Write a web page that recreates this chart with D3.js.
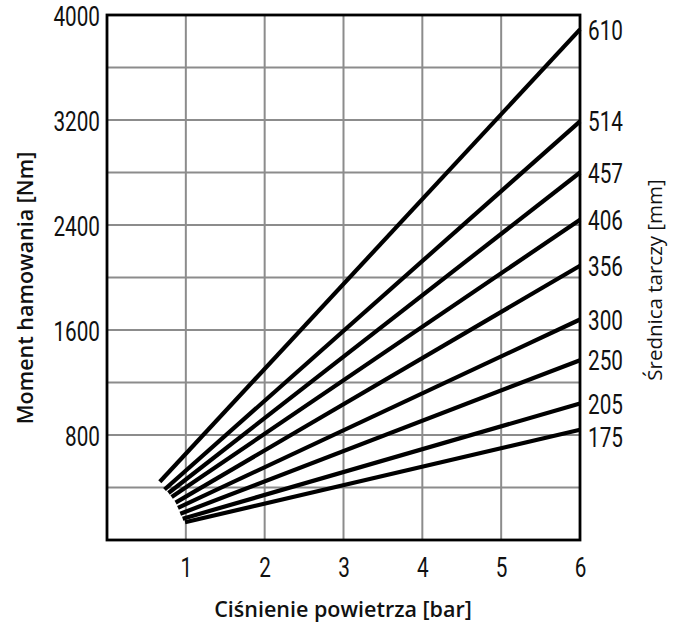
<!DOCTYPE html>
<html><head><meta charset="utf-8">
<script src="https://cdn.jsdelivr.net/npm/d3@7"></script>
<style>
html,body{margin:0;padding:0;background:#fff;}
.tick-lbl{font-family:Roboto,"DejaVu Sans",sans-serif;font-weight:400;font-size:28px;fill:#111;}
.title{font-family:"Open Sans","Noto Sans",sans-serif;fill:#111;}
</style>
</head><body>
<svg id="chart" width="678" height="625"></svg>
<script>
// Data
const diameters = ["610","514","457","406","356","300","250","205","175"];
const startPressure = [0.67,0.73,0.78,0.82,0.87,0.90,0.93,0.96,0.99];
const startTorque = [444,385,358,328,285,245,200,162,135];
const endPressure = 6;
const endTorque = [3890,3190,2800,2440,2090,1680,1370,1040,840];
const xTicks = [1,2,3,4,5,6];
const yTickLabels = [800,1600,2400,3200,4000];
const yGrid = d3.range(400,4000,400);

const svg = d3.select("#chart");
svg.append("rect").attr("width",678).attr("height",625).attr("fill","#fff");
const pL=107,pR=580,pT=15,pB=540;
const SX = 0.74; // horizontal condensing of tick font
const x = d3.scaleLinear().domain([0,6]).range([pL,pR]);
const y = d3.scaleLinear().domain([0,4000]).range([pB,pT]);

// grid
svg.append("g").selectAll("line").data(xTicks.slice(0,-1)).join("line")
  .attr("x1",d=>x(d)).attr("x2",d=>x(d)).attr("y1",pT).attr("y2",pB)
  .attr("stroke","#8c8c8c").attr("stroke-width",2);
svg.append("g").selectAll("line").data(yGrid).join("line")
  .attr("x1",pL).attr("x2",pR).attr("y1",d=>y(d)).attr("y2",d=>y(d))
  .attr("stroke","#8c8c8c").attr("stroke-width",2);

// lines
const series = diameters.map((d,i)=>({name:d, pts:[[startPressure[i],startTorque[i]],[endPressure,endTorque[i]]]}));
const line = d3.line().x(p=>x(p[0])).y(p=>y(p[1]));
svg.append("g").selectAll("path").data(series).join("path")
  .attr("d",s=>line(s.pts)).attr("fill","none").attr("stroke","#000").attr("stroke-width",4.2).attr("stroke-linecap","butt");

// frame
svg.append("rect").attr("x",pL).attr("y",pT).attr("width",pR-pL).attr("height",pB-pT)
  .attr("fill","none").attr("stroke","#000").attr("stroke-width",2.8);

// axes labels
const xAxis = d3.axisBottom(x).tickValues(xTicks).tickSize(0).tickPadding(0).tickFormat(d3.format("d"));
const gx = svg.append("g").attr("transform",`translate(0,${pB})`).call(xAxis);
gx.select(".domain").remove();
gx.attr("font-size",null).attr("font-family",null);
gx.selectAll("text").attr("class","tick-lbl").attr("fill",null)
  .attr("y",37).attr("dy",null).attr("transform",`scale(${SX},1)`);

const yAxis = d3.axisLeft(y).tickValues(yTickLabels).tickSize(0).tickPadding(0).tickFormat(d3.format("d"));
const gy = svg.append("g").attr("transform",`translate(${pL},0)`).call(yAxis);
gy.select(".domain").remove();
gy.attr("font-size",null).attr("font-family",null);
gy.selectAll("text").attr("class","tick-lbl").attr("fill",null)
  .attr("x",-7/SX).attr("dy","0.36em").attr("transform",`scale(${SX},1)`);

// right labels
svg.append("g").selectAll("text").data(series).join("text")
  .attr("class","tick-lbl")
  .attr("transform",(s,i)=>`translate(${pR+8},${y(endTorque[i]) + (s.name==="175"?7:0)}) scale(${SX},1)`)
  .attr("dy","0.36em")
  .text(s=>s.name);

// titles
svg.append("text").attr("class","title").attr("font-size",21.5).attr("font-weight",600)
  .attr("transform","translate(33,288) rotate(-90)").attr("text-anchor","middle").text("Moment hamowania [Nm]");
svg.append("text").attr("class","title").attr("font-size",20.5)
  .attr("transform","translate(662,280) rotate(-90)").attr("text-anchor","middle").text("Średnica tarczy [mm]");
svg.append("text").attr("class","title").attr("font-size",21.5).attr("font-weight",600)
  .attr("x",343).attr("y",617).attr("text-anchor","middle").text("Ciśnienie powietrza [bar]");
</script>
</body></html>
